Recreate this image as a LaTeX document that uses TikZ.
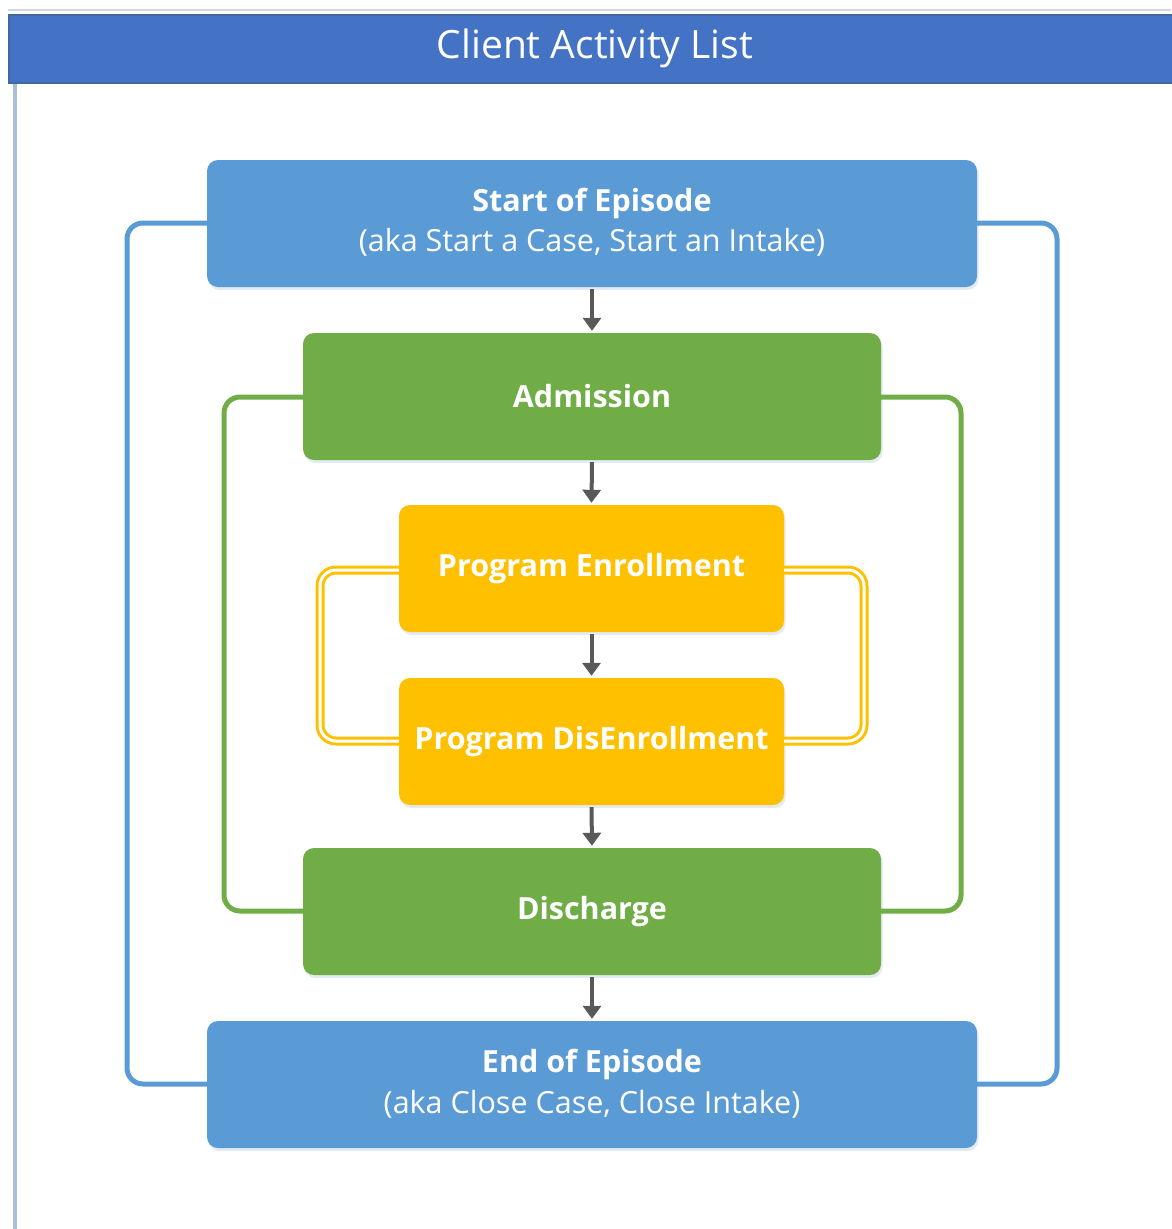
\documentclass[tikz,border=0pt]{standalone}
\usepackage{fontspec}
\setmainfont{Open Sans}
\usetikzlibrary{shadows,arrows.meta}
\definecolor{hdrblue}{HTML}{4472C4}
\definecolor{hdredge}{HTML}{3E6A9C}
\definecolor{frameline}{HTML}{AABFD8}
\definecolor{epblue}{HTML}{5B9BD5}
\definecolor{admgreen}{HTML}{70AD47}
\definecolor{prgyellow}{HTML}{FFC000}
\definecolor{arrowgray}{HTML}{595959}
\tikzset{
  stage/.style={rounded corners=11pt, minimum height=127pt, text=white, align=center,
    drop shadow={shadow xshift=1.5pt, shadow yshift=-3pt, opacity=0.18, fill=epblue!60!gray}},
  epbox/.style={stage, fill=epblue, minimum width=770pt},
  grbox/.style={stage, fill=admgreen, minimum width=578pt, font=\fontsize{30.5}{36}\selectfont\bfseries},
  ylbox/.style={stage, fill=prgyellow, minimum width=385pt, font=\fontsize{30.5}{36}\selectfont\bfseries},
  flow/.style={draw=arrowgray, line width=4pt, -{Triangle[length=13pt,width=18pt]}, shorten >=2pt, shorten <=2pt},
  loopblue/.style={draw=epblue, line width=5pt, rounded corners=16pt},
  loopgreen/.style={draw=admgreen, line width=5pt, rounded corners=16pt},
  loopyellow/.style={draw=prgyellow, line width=3pt, double=white, double distance=3pt, rounded corners=16pt},
  headtxt/.style={text=white, font=\fontsize{30.5}{36}\selectfont\bfseries},
  subtxt/.style={text=white, font=\fontsize{30.5}{36}\selectfont},
}
\begin{document}
\begin{tikzpicture}[x=1pt,y=-1pt]
\useasboundingbox (0,0) rectangle (1171,1229);
\fill[white] (0,0) rectangle (1171,1229);
% page frame and title bar
\draw[frameline!60, line width=2pt] (8,10) -- (1171,10);
\draw[frameline, line width=4pt] (15,82) -- (15,1229);
\node[fill=hdrblue, draw=hdredge, line width=2pt, minimum width=1170pt, minimum height=68pt,
  anchor=north west, inner sep=0pt] (title) at (8,14) {};
\node[text=white, font=\fontsize{39}{44}\selectfont] (titletext) at (595,48) {Client Activity List};
% stages
\node[epbox] (start) at (592,223.5) {};
\node[headtxt] (startA) at (592,203) {Start of Episode};
\node[subtxt] (startB) at (592,242) {(aka Start a Case, Start an Intake)};
\node[grbox] (adm) at (592,396.5) {Admission};
\node[ylbox] (enr) at (591.5,568.5) {Program Enrollment};
\node[ylbox] (dis) at (591.5,741.5) {Program DisEnrollment};
\node[grbox] (dsc) at (592,911.5) {Discharge};
\node[epbox] (end) at (592,1084.5) {};
\node[headtxt] (endA) at (592,1064) {End of Episode};
\node[subtxt] (endB) at (592,1104) {(aka Close Case, Close Intake)};
% flow arrows
\draw[flow] (start.south) -- (adm.north);
\draw[flow] (adm.south) -- (enr.north);
\draw[flow] (enr.south) -- (dis.north);
\draw[flow] (dis.south) -- (dsc.north);
\draw[flow] (dsc.south) -- (end.north);
% brackets joining the paired stages
\draw[loopblue] (start.west |- 0,223) -| (127,1084) -- (end.west |- 0,1084);
\draw[loopblue] (start.east |- 0,223) -| (1057,1084) -- (end.east |- 0,1084);
\draw[loopgreen] (adm.west |- 0,397) -| (224,911) -- (dsc.west |- 0,911);
\draw[loopgreen] (adm.east |- 0,397) -| (961,911) -- (dsc.east |- 0,911);
\draw[loopyellow] (enr.west |- 0,570) -| (320,741) -- (dis.west |- 0,741);
\draw[loopyellow] (enr.east |- 0,570) -| (864,741) -- (dis.east |- 0,741);
\end{tikzpicture}
\end{document}
